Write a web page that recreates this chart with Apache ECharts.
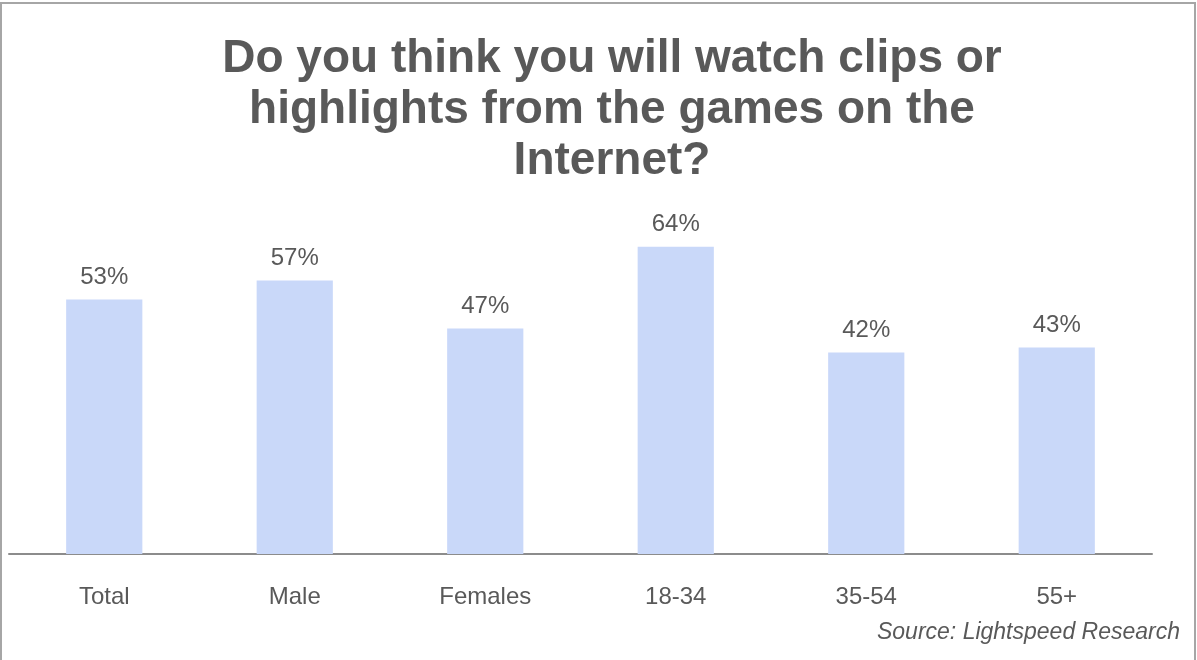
<!DOCTYPE html>
<html>
<head>
<meta charset="utf-8">
<script src="https://cdn.jsdelivr.net/npm/echarts@6/dist/echarts.min.js"></script>
<style>
html,body{margin:0;padding:0;background:#fff;}
#main{width:1197px;height:660px;}
</style>
</head>
<body>
<div id="main"></div>
<script>
var categories = ['Total', 'Male', 'Females', '18-34', '35-54', '55+'];
var values = [53, 57, 47, 64, 42, 43];
var titleText = 'Do you think you will watch clips or\nhighlights from the games on the\nInternet?';
var sourceText = 'Source: Lightspeed Research';

var chart = echarts.init(document.getElementById('main'));
chart.setOption({
  backgroundColor: '#ffffff',
  animation: false,
  title: {
    text: titleText,
    left: 607,
    textAlign: 'center',
    top: 29,
    textStyle: {
      fontFamily: 'Liberation Sans, Arial, sans-serif',
      fontWeight: 'bold',
      fontSize: 46,
      lineHeight: 51,
      color: '#595959'
    }
  },
  graphic: [
    {
      type: 'rect',
      shape: { x: 1, y: 3, width: 1194, height: 670 },
      style: { fill: 'none', stroke: '#a6a6a6', lineWidth: 2 },
      silent: true
    },
    {
      type: 'text',
      right: 17,
      top: 621,
      style: {
        text: sourceText,
        font: 'italic 23px "Liberation Sans", Arial, sans-serif',
        fill: '#595959'
      }
    }
  ],
  grid: { left: 9, right: 45, top: 74, bottom: 106, containLabel: false },
  xAxis: {
    type: 'category',
    data: categories,
    axisLine: { show: true, lineStyle: { color: '#8c8c8c', width: 2 } },
    axisTick: { show: false },
    axisLabel: {
      margin: 31,
      fontSize: 24,
      color: '#595959',
      fontFamily: 'Liberation Sans, Arial, sans-serif'
    }
  },
  yAxis: {
    type: 'value',
    min: 0,
    max: 100,
    show: false,
    splitLine: { show: false }
  },
  series: [{
    type: 'bar',
    data: values,
    barWidth: '40%',
    itemStyle: { color: '#c9d8f9' },
    label: {
      show: true,
      position: 'top',
      distance: 10,
      formatter: '{c}%',
      fontSize: 24,
      color: '#595959',
      fontFamily: 'Liberation Sans, Arial, sans-serif'
    }
  }]
});
</script>
</body>
</html>
